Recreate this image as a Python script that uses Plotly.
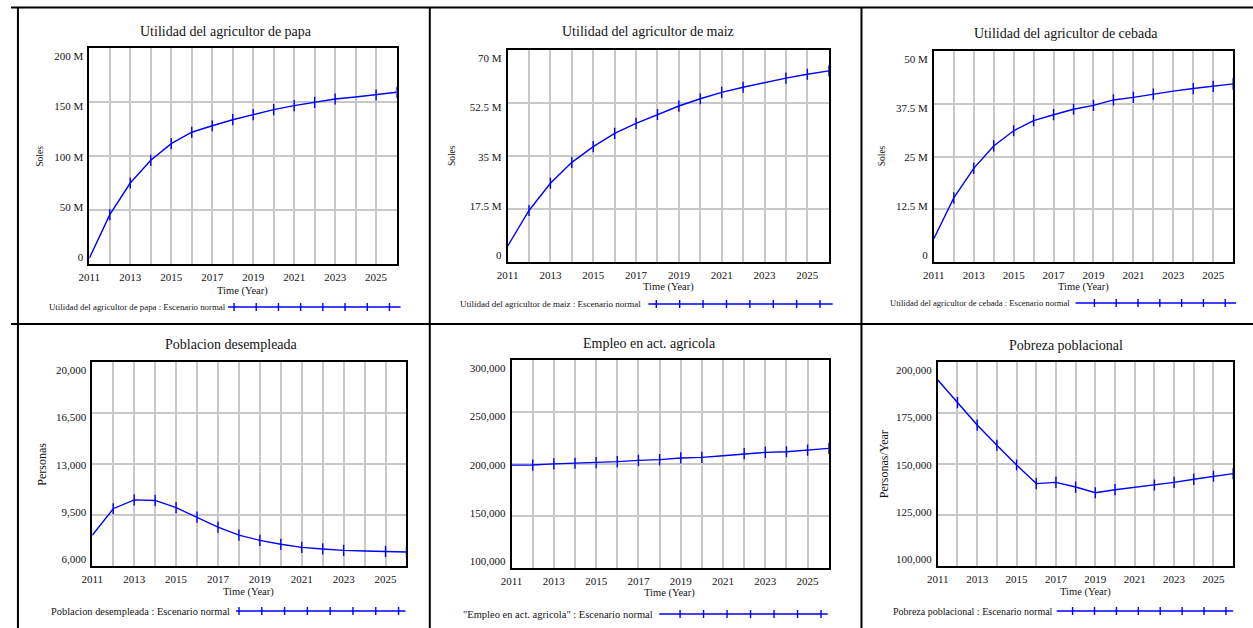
import plotly.graph_objects as go

W, H = 1253, 628

years = list(range(2011, 2027))

papa = [5.3e6, 45.7e6, 75e6, 96e6, 111.4e6, 122e6, 128e6, 133.6e6, 138.3e6,
        143e6, 146.6e6, 149.7e6, 152.8e6, 154.6e6, 156.5e6, 159e6]
maiz = [5.2e6, 17.0e6, 26.0e6, 32.9e6, 38.1e6, 42.5e6, 45.8e6, 48.7e6, 51.5e6,
        53.9e6, 56.0e6, 57.7e6, 59.3e6, 60.7e6, 62.0e6, 63.1e6]
cebada = [5.5e6, 15.2e6, 22.2e6, 27.5e6, 31.1e6, 33.5e6, 34.9e6, 36.2e6, 37.1e6,
          38.4e6, 39.0e6, 39.8e6, 40.5e6, 41.1e6, 41.6e6, 42.2e6]
desempleada = [8100, 9930, 10540, 10500, 10000, 9360, 8670, 8120, 7760,
               7490, 7280, 7170, 7070, 7030, 7000, 6960]
empleo = [198900, 199000, 200100, 200700, 201300, 202300, 203500, 204200, 205800,
          206400, 208000, 209900, 211200, 211800, 213400, 215000]
pobreza = [191200, 180100, 169100, 159200, 149500, 140400, 141000, 138700, 135900,
           137400, 138600, 139700, 141000, 142500, 144000, 145300]

marks_papa = [y for y in years[1:] if y != 2024]
marks_maiz = [y for y in years[1:] if y != 2023]
marks_cebada = [y for y in years[1:] if y != 2023]
marks_desempleada = [y for y in years[1:] if y != 2024]
marks_empleo = [y for y in years[1:] if y != 2021]
marks_pobreza = [y for y in years[1:] if y != 2021]

x_tick_labels = [str(y) if y % 2 == 1 and y < 2026 else "" for y in years]

ticks_papa = [0, 50e6, 100e6, 150e6, 200e6]
labels_papa = ["0", "50 M", "100 M", "150 M", "200 M"]
ticks_maiz = [0, 17.5e6, 35e6, 52.5e6, 70e6]
labels_maiz = ["0", "17.5 M", "35 M", "52.5 M", "70 M"]
ticks_cebada = [0, 12.5e6, 25e6, 37.5e6, 50e6]
labels_cebada = ["0", "12.5 M", "25 M", "37.5 M", "50 M"]
ticks_desempleada = [6000, 9500, 13000, 16500, 20000]
labels_desempleada = ["6,000", "9,500", "13,000", "16,500", "20,000"]
ticks_empleo = [100000, 150000, 200000, 250000, 300000]
labels_empleo = ["100,000", "150,000", "200,000", "250,000", "300,000"]
ticks_pobreza = [100000, 125000, 150000, 175000, 200000]
labels_pobreza = ["100,000", "125,000", "150,000", "175,000", "200,000"]

titles = ["Utilidad del agricultor de papa", "Utilidad del agricultor de maiz",
          "Utilidad del agricultor de cebada", "Poblacion desempleada",
          "Empleo en act. agricola", "Pobreza poblacional"]
y_titles = ["Soles", "Soles", "Soles", "Personas", "", "Personas/Year"]
legend_labels = ["Utilidad del agricultor de papa : Escenario normal",
                 "Utilidad del agricultor de maiz : Escenario normal",
                 "Utilidad del agricultor de cebada : Escenario normal",
                 "Poblacion desempleada : Escenario normal",
                 "\"Empleo en act. agricola\" : Escenario normal",
                 "Pobreza poblacional : Escenario normal"]

series = [papa, maiz, cebada, desempleada, empleo, pobreza]
marks = [marks_papa, marks_maiz, marks_cebada, marks_desempleada, marks_empleo, marks_pobreza]
yticks = [(ticks_papa, labels_papa), (ticks_maiz, labels_maiz), (ticks_cebada, labels_cebada),
          (ticks_desempleada, labels_desempleada), (ticks_empleo, labels_empleo),
          (ticks_pobreza, labels_pobreza)]

# layout specs in pixels
panels = [
    dict(plot=(79, 389, 48, 264), title=(217, 31), xt=(234, 291), yt=(29, 156), ytsize=9.5,
         leg=dict(tx=36, l0=219, l1=393, m0=225, dm=22.4, n=8, y=307, fs=8.8)),
    dict(plot=(501, 825, 50, 262), title=(643, 32), xt=(663, 287), yt=(445, 156), ytsize=9.5,
         leg=dict(tx=451, l0=643, l1=829, m0=651, dm=23.6, n=8, y=304, fs=9.0)),
    dict(plot=(931, 1233, 51, 262), title=(1064, 33), xt=(1082, 287), yt=(879, 156), ytsize=9.5,
         leg=dict(tx=885, l0=1074, l1=1236, m0=1093, dm=22, n=7, y=303, fs=8.6)),
    dict(plot=(82, 399, 362, 566), title=(222, 344), xt=(240, 592), yt=(31, 464), ytsize=12,
         leg=dict(tx=38, l0=227, l1=398, m0=230, dm=23, n=8, y=611, fs=10.4)),
    dict(plot=(505, 825, 360, 568), title=(644, 343), xt=(664, 593), yt=(0, 464), ytsize=12,
         leg=dict(tx=454, l0=654, l1=824, m0=675, dm=23.7, n=7, y=614, fs=10.5)),
    dict(plot=(935, 1233, 362, 566), title=(1064, 345), xt=(1084, 592), yt=(881, 464), ytsize=12,
         leg=dict(tx=888, l0=1055, l1=1233, m0=1071, dm=22.1, n=8, y=611, fs=10.0)),
]

# Vensim-style inset of the outer y tick labels (pixels)
INSET_TOP, INSET_BOTTOM = 8.5, 7

FONT = "Liberation Serif"
TXT = "#141414"
BLUE = "#0000ff"
GRID = "#c8c8c8"


def fx(px):
    return px / W


def fy(py):
    return 1 - py / H


fig = go.Figure()
annotations = []
shapes = []

for i, p in enumerate(panels):
    k = "" if i == 0 else str(i + 1)
    xa, ya = "x" + k, "y" + k
    vals = series[i]
    fig.add_trace(go.Scatter(x=years, y=vals, mode="lines", xaxis=xa, yaxis=ya,
                             line=dict(color=BLUE, width=1.4), showlegend=False,
                             hoverinfo="x+y"))
    my = [vals[years.index(m)] for m in marks[i]]
    fig.add_trace(go.Scatter(x=marks[i], y=my, mode="markers", xaxis=xa, yaxis=ya,
                             marker=dict(symbol="line-ns", size=8,
                                         line=dict(color=BLUE, width=1.4)),
                             showlegend=False, hoverinfo="skip"))
    x0, x1, y0, y1 = p["plot"]
    tv, tt = yticks[i]
    fig.layout["xaxis" + k] = dict(
        domain=[fx(x0), fx(x1)], anchor=ya, range=[2011, 2026],
        tickvals=years, ticktext=x_tick_labels, ticks="",
        showgrid=True, gridcolor=GRID, gridwidth=1.5,
        showline=True, linecolor="black", linewidth=2, mirror=True,
        zeroline=False, tickfont=dict(family=FONT, size=11, color=TXT),
        ticklabelstandoff=2)
    fig.layout["yaxis" + k] = dict(
        domain=[fy(y1), fy(y0)], anchor=xa, range=[tv[0], tv[-1]],
        tickvals=tv, showticklabels=False, ticks="",
        showgrid=True, gridcolor=GRID, gridwidth=1.5,
        showline=True, linecolor="black", linewidth=2, mirror=True,
        zeroline=False)
    # label axis: labels spread evenly between inset top and inset bottom
    hpx = y1 - y0
    span = tv[-1] - tv[0]
    n = len(tv)
    lab_pos = [tv[0] + (INSET_BOTTOM + j * (hpx - INSET_TOP - INSET_BOTTOM) / (n - 1)) / hpx * span
               for j in range(n)]
    kk = str(i + 7)
    fig.layout["yaxis" + kk] = dict(
        overlaying=ya, anchor=xa, side="left", range=[tv[0], tv[-1]],
        tickvals=lab_pos, ticktext=tt, ticks="", showgrid=False, showline=False,
        zeroline=False, tickfont=dict(family=FONT, size=11, color=TXT),
        ticklabelstandoff=5)
    fig.add_trace(go.Scatter(x=[years[0]], y=[tv[0]], mode="markers", xaxis=xa, yaxis="y" + kk,
                             marker=dict(opacity=0), showlegend=False, hoverinfo="skip"))
    annotations.append(dict(text=titles[i], x=fx(p["title"][0]), y=fy(p["title"][1]),
                            xref="paper", yref="paper", showarrow=False,
                            xanchor="center", yanchor="middle",
                            font=dict(family=FONT, size=14, color=TXT)))
    annotations.append(dict(text="Time (Year)", x=fx(p["xt"][0]), y=fy(p["xt"][1]),
                            xref="paper", yref="paper", showarrow=False,
                            xanchor="center", yanchor="middle",
                            font=dict(family=FONT, size=10.5, color=TXT)))
    if y_titles[i]:
        annotations.append(dict(text=y_titles[i], x=fx(p["yt"][0]), y=fy(p["yt"][1]),
                                xref="paper", yref="paper", showarrow=False, textangle=-90,
                                xanchor="center", yanchor="middle",
                                font=dict(family=FONT, size=p["ytsize"], color=TXT)))
    lg = p["leg"]
    annotations.append(dict(text=legend_labels[i], x=fx(lg["tx"]), y=fy(lg["y"]),
                            xref="paper", yref="paper", showarrow=False,
                            xanchor="left", yanchor="middle",
                            font=dict(family=FONT, size=lg["fs"], color=TXT)))
    shapes.append(dict(type="line", xref="paper", yref="paper",
                       x0=fx(lg["l0"]), x1=fx(lg["l1"]), y0=fy(lg["y"]), y1=fy(lg["y"]),
                       line=dict(color=BLUE, width=1.4)))
    for j in range(lg["n"]):
        mx = lg["m0"] + j * lg["dm"]
        shapes.append(dict(type="line", xref="paper", yref="paper",
                           x0=fx(mx), x1=fx(mx), y0=fy(lg["y"] - 4), y1=fy(lg["y"] + 4),
                           line=dict(color=BLUE, width=1.4)))

# cell borders
for (a, b, c, d) in [(0, 7.5, W, 7.5), (0, 324, W, 324),
                     (7, 7, 7, H), (422.5, 7, 422.5, H), (858, 7, 858, H)]:
    shapes.append(dict(type="line", xref="paper", yref="paper",
                       x0=fx(a), y0=fy(b), x1=fx(c), y1=fy(d),
                       line=dict(color="black", width=2)))

fig.update_layout(width=W, height=H, margin=dict(l=0, r=0, t=0, b=0),
                  paper_bgcolor="white", plot_bgcolor="white",
                  annotations=annotations, shapes=shapes, showlegend=False)

fig.write_html("out.html",
               config={"displayModeBar": False},
               post_script="document.body.style.margin='0';"
                           "document.body.style.padding='0';"
                           "document.body.style.overflow='hidden';")
